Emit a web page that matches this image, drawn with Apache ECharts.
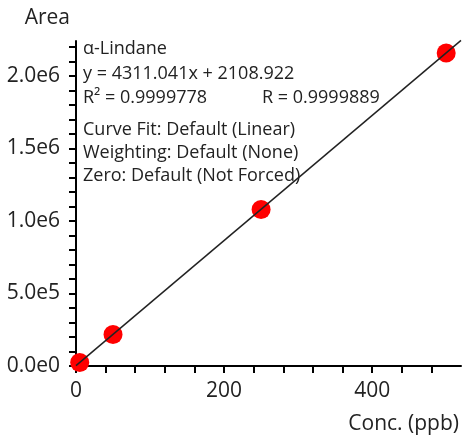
<!DOCTYPE html>
<html>
<head>
<meta charset="utf-8">
<script src="https://cdn.jsdelivr.net/npm/echarts@6/dist/echarts.min.js"></script>
<style>html,body{margin:0;padding:0;background:#fff}#c{width:462px;height:437px}</style>
</head>
<body>
<div id="c"></div>
<script>
// Calibration points (Conc. ppb, Area)
const concValues = [5, 50, 250, 500];
const areaValues = [23500, 217500, 1079000, 2157000];
// Fitted line endpoints
const fitConc = [0, 520];
const fitArea = [2108.922, 2243850];
// Axis ticks and labels
const xTickValues = [0, 40, 80, 120, 160, 200, 240, 280, 320, 360, 400, 440, 480];
const xLabelValues = [0, 200, 400];
const xLabelTexts = ['0', '200', '400'];
const yTickValues = [0, 1e5, 2e5, 3e5, 4e5, 5e5, 6e5, 7e5, 8e5, 9e5, 1e6, 1.1e6, 1.2e6, 1.3e6, 1.4e6, 1.5e6, 1.6e6, 1.7e6, 1.8e6, 1.9e6, 2e6, 2.1e6, 2.2e6];
const yLabelValues = [0, 5e5, 1e6, 1.5e6, 2e6];
const yLabelTexts = ['0.0e0', '5.0e5', '1.0e6', '1.5e6', '2.0e6'];
const annotLines1 = ['\u03b1-Lindane', 'y = 4311.041x + 2108.922', 'R\u00b2 = 0.9999778'];
const annotR = 'R = 0.9999889';
const annotLines2 = ['Curve Fit: Default (Linear)', 'Weighting: Default (None)', 'Zero: Default (Not Forced)'];

const FONT = 'Open Sans';
const chart = echarts.init(document.getElementById('c'));
const axisLineStyle = { color: '#000', width: 2 };
const annFont = '18px "' + FONT + '"';
const graphics = [];
annotLines1.forEach((t, i) => graphics.push({ type: 'text', left: 83, top: 40 + i * 24.5, style: { text: t, font: annFont, fill: '#222' } }));
graphics.push({ type: 'text', left: 262, top: 40 + 2 * 24.5, style: { text: annotR, font: annFont, fill: '#222' } });
annotLines2.forEach((t, i) => graphics.push({ type: 'text', left: 83, top: 121 + i * 23, style: { text: t, font: annFont, fill: '#222' } }));

chart.setOption({
  animation: false,
  grid: { left: 76, right: 0, top: 41, bottom: 71 },
  xAxis: {
    type: 'value', min: 0, max: 520,
    name: 'Conc. (ppb)', nameLocation: 'end', nameGap: -2,
    nameTextStyle: { fontFamily: FONT, fontSize: 21, color: '#222', align: 'right', verticalAlign: 'top', padding: [48, 0, 0, 0] },
    axisLine: { lineStyle: axisLineStyle },
    axisTick: { customValues: xTickValues, length: 7, lineStyle: { color: '#000', width: 2 } },
    axisLabel: { customValues: xLabelValues, formatter: v => xLabelTexts[xLabelValues.indexOf(v)] ?? '', fontFamily: FONT, fontSize: 21, color: '#222', margin: 15 },
    splitLine: { show: false }
  },
  yAxis: {
    type: 'value', min: 0, max: 2.24e6,
    name: 'Area', nameLocation: 'end', nameGap: 12,
    nameTextStyle: { fontFamily: FONT, fontSize: 21, color: '#222', align: 'right', padding: [0, 6, 0, 0] },
    axisLine: { lineStyle: axisLineStyle },
    axisTick: { customValues: yTickValues, length: 7, lineStyle: { color: '#000', width: 2 } },
    axisLabel: { customValues: yLabelValues, formatter: v => yLabelTexts[yLabelValues.indexOf(v)] ?? '', fontFamily: FONT, fontSize: 21, color: '#222', margin: 16 },
    splitLine: { show: false }
  },
  graphic: graphics,
  series: [
    { type: 'line', data: fitConc.map((x, i) => [x, fitArea[i]]), showSymbol: false, lineStyle: { color: '#222', width: 1.5 }, z: 3, clip: false },
    { type: 'scatter', data: concValues.map((x, i) => [x, areaValues[i]]), symbolSize: 19, itemStyle: { color: '#ff0000', opacity: 1 }, z: 2, clip: false }
  ]
});
</script>
</body>
</html>
